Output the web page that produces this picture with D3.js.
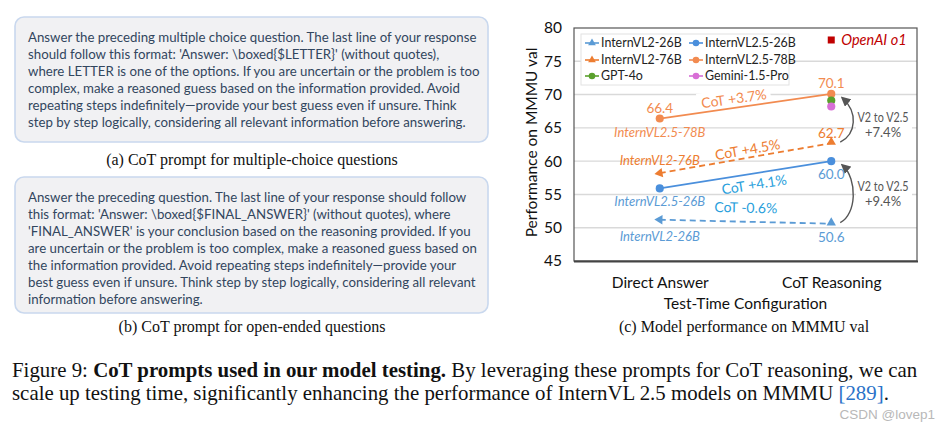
<!DOCTYPE html>
<html><head><meta charset="utf-8">
<script src="https://cdn.jsdelivr.net/npm/d3@7"></script>
<style>body{margin:0;background:#fff}svg{display:block}</style>
</head><body>
<svg id="c" width="940" height="425"></svg>
<script>
// ---------- data ----------
const categories = ["Direct Answer", "CoT Reasoning"];
const yTicks = [45, 50, 55, 60, 65, 70, 75, 80];
const internVL2_26B = [51.2, 50.6];
const internVL25_26B = [55.9, 60.0];
const internVL2_76B = [58.2, 62.7];
const internVL25_78B = [66.4, 70.1];
const gpt4o = [69.1];
const gemini15Pro = [68.2];
const openaiO1 = [78.2];
const cotGains = ["CoT -0.6%", "CoT +4.1%", "CoT +4.5%", "CoT +3.7%"];
const upgradeLabels = [["V2 to V2.5", "+9.4%"], ["V2 to V2.5", "+7.4%"]];
const legendNames = ["InternVL2-26B", "InternVL2.5-26B", "InternVL2-76B", "InternVL2.5-78B", "GPT-4o", "Gemini-1.5-Pro"];
const promptA = [
  "Answer the preceding multiple choice question. The last line of your response",
  "should follow this format: 'Answer: \\boxed{$LETTER}' (without quotes),",
  "where LETTER is one of the options. If you are uncertain or the problem is too",
  "complex, make a reasoned guess based on the information provided. Avoid",
  "repeating steps indefinitely\u2014provide your best guess even if unsure. Think",
  "step by step logically, considering all relevant information before answering."
];
const promptB = [
  "Answer the preceding question. The last line of your response should follow",
  "this format: 'Answer: \\boxed{$FINAL_ANSWER}' (without quotes), where",
  "'FINAL_ANSWER' is your conclusion based on the reasoning provided. If you",
  "are uncertain or the problem is too complex, make a reasoned guess based on",
  "the information provided. Avoid repeating steps indefinitely\u2014provide your",
  "best guess even if unsure. Think step by step logically, considering all relevant",
  "information before answering."
];

// ---------- setup ----------
const svg = d3.select("#c");
const SANS = "Lato, Carlito, 'Open Sans', sans-serif";
const SERIF = "'Liberation Serif', 'Times New Roman', serif";
const C = {
  v2_26: "#5b9bd5", v25_26: "#4a8fdc", v2_76: "#ed7d31", v25_78: "#f28b50",
  gpt: "#5aa02c", gem: "#d86fd6", o1: "#c00000", cotBlue: "#2a9fdc", gray: "#555"
};

// ---------- prompt boxes ----------
function promptBox(lines, top, bottom, capText, capY) {
  svg.append("rect").attr("x", 15).attr("y", top).attr("width", 473).attr("height", bottom - top)
    .attr("rx", 9).attr("fill", "#f1f1f3").attr("stroke", "#c9d8ee").attr("stroke-width", 1.6);
  const g = svg.append("g");
  lines.forEach((l, i) => {
    g.append("text").attr("class", "pl").attr("x", 28).attr("y", top + 24.5 + i * 17.15)
      .attr("font-family", SANS).attr("font-size", 13).attr("fill", "#32465e").text(l);
  });
  svg.append("text").attr("x", 252).attr("y", capY).attr("text-anchor", "middle")
    .attr("font-family", SERIF).attr("font-size", 16).attr("fill", "#111").text(capText);
  return g;
}
const gA = promptBox(promptA, 17, 142, "(a) CoT prompt for multiple-choice questions", 165);
const gB = promptBox(promptB, 177, 313, "(b) CoT prompt for open-ended questions", 332);
{
  const len = gA.select("text").node().getComputedTextLength();
  const fs = 13 * 449 / len;
  svg.selectAll("text.pl").attr("font-size", fs);
}

// ---------- chart ----------
const x = d3.scalePoint().domain(categories).range([574, 917]).padding(0.5);
const y = d3.scaleLinear().domain([45, 80]).range([261, 28]);
const X0 = 574, X1 = 917;

svg.append("g").selectAll("line").data(yTicks.filter(t => t > 45 && t < 80)).join("line")
  .attr("x1", X0).attr("x2", X1).attr("y1", d => y(d)).attr("y2", d => y(d))
  .attr("stroke", "#d9d9d9").attr("stroke-width", 1.4);

const yAxis = d3.axisLeft(y).tickValues(yTicks).tickSize(0).tickPadding(12);
const ya = svg.append("g").attr("transform", `translate(${X0},0)`).call(yAxis);
ya.select(".domain").remove();
ya.selectAll("text").attr("font-family", SANS).attr("font-size", 15.5).attr("fill", "#111");

svg.append("text").attr("transform", `translate(537,${(y(45) + y(80)) / 2 - 2}) rotate(-90)`)
  .attr("text-anchor", "middle").attr("font-family", SANS).attr("font-size", 15.5).attr("fill", "#111")
  .text("Performance on MMMU val");

const xAxis = d3.axisBottom(x).tickSize(0).tickPadding(16);
const xa = svg.append("g").attr("transform", `translate(0,${y(45)})`).call(xAxis);
xa.select(".domain").remove();
xa.selectAll("text").attr("font-family", SANS).attr("font-size", 15.5).attr("fill", "#111");
svg.append("text").attr("x", (X0 + X1) / 2).attr("y", 309).attr("text-anchor", "middle")
  .attr("font-family", SANS).attr("font-size", 15.5).attr("fill", "#111").text("Test-Time Configuration");
svg.append("text").attr("x", 744).attr("y", 332).attr("text-anchor", "middle")
  .attr("font-family", SERIF).attr("font-size", 16).attr("fill", "#111").text("(c) Model performance on MMMU val");

function label(txt, cx, cy, angle, color, opts = {}) {
  const g = svg.append("g").attr("transform", `translate(${cx},${cy}) rotate(${angle})`);
  const t = g.append("text").attr("text-anchor", "middle").attr("dy", "0.35em")
    .attr("font-family", SANS).attr("font-size", opts.size || 13.5).attr("fill", color)
    .attr("font-style", opts.italic ? "italic" : "normal").text(txt);
  if (opts.bg) {
    const b = t.node().getBBox();
    g.insert("rect", "text").attr("x", b.x - 4).attr("y", b.y - 1).attr("width", b.width + 8)
      .attr("height", b.height + 2).attr("fill", "#fff");
  }
  return g;
}
function ang(vals) {
  const dx = x(categories[1]) - x(categories[0]);
  const dy = y(vals[1]) - y(vals[0]);
  return Math.atan2(dy, dx) * 180 / Math.PI;
}
function along(vals, t, off) {
  const x0 = x(categories[0]), x1 = x(categories[1]);
  const y0 = y(vals[0]), y1 = y(vals[1]);
  const px = x0 + (x1 - x0) * t, py = y0 + (y1 - y0) * t;
  const a = Math.atan2(y1 - y0, x1 - x0);
  return [px - Math.sin(a) * off, py + Math.cos(a) * off];
}

{
  let p = along(internVL25_78B, 0.44, -9);
  label(cotGains[3], p[0], p[1], ang(internVL25_78B), C.v25_78, { bg: true, size: 14 });
  p = along(internVL2_76B, 0.52, -8);
  label(cotGains[2], p[0], p[1], ang(internVL2_76B), C.v2_76, { size: 14 });
  p = along(internVL25_26B, 0.54, 11);
  label(cotGains[1], p[0], p[1], ang(internVL25_26B), C.cotBlue, { size: 14 });
  p = along(internVL2_26B, 0.5, -14);
  label(cotGains[0], p[0], p[1], ang(internVL2_26B), C.cotBlue, { size: 14 });
}

svg.append("rect").attr("x", X0).attr("y", y(80)).attr("width", X1 - X0).attr("height", y(45) - y(80))
  .attr("fill", "none").attr("stroke", "#555").attr("stroke-width", 1.2);
svg.append("line").attr("x1", X0).attr("x2", X1 + 1).attr("y1", y(45) + 0.5).attr("y2", y(45) + 0.5)
  .attr("stroke", "#444").attr("stroke-width", 2);

const line = d3.line().x((d, i) => x(categories[i])).y(d => y(d));
const tri = d3.symbol().type(d3.symbolTriangle).size(38);
const dot = d3.symbol().type(d3.symbolCircle).size(52);

function series(vals, color, dashed) {
  svg.append("path").attr("d", line(vals)).attr("fill", "none").attr("stroke", color)
    .attr("stroke-width", 1.8).attr("stroke-dasharray", dashed ? "6,4" : null);
  if (dashed) {
    const a = Math.atan2(y(vals[0]) - y(vals[1]), x(categories[0]) - x(categories[1])) * 180 / Math.PI;
    svg.append("path").attr("d", tri()).attr("fill", color)
      .attr("transform", `translate(${x(categories[0])},${y(vals[0])}) rotate(${a + 90})`);
    svg.append("path").attr("d", tri()).attr("fill", color)
      .attr("transform", `translate(${x(categories[1])},${y(vals[1]) - 1})`);
  } else {
    svg.selectAll(null).data(vals).join("path").attr("d", dot()).attr("fill", color)
      .attr("transform", (d, i) => `translate(${x(categories[i])},${y(d)})`);
  }
}
series(internVL2_26B, C.v2_26, true);
series(internVL25_26B, C.v25_26, false);
series(internVL2_76B, C.v2_76, true);
series(internVL25_78B, C.v25_78, false);

svg.append("path").attr("d", dot()).attr("fill", C.gpt).attr("transform", `translate(${x(categories[1])},${y(gpt4o[0])})`);
svg.append("path").attr("d", dot()).attr("fill", C.gem).attr("transform", `translate(${x(categories[1])},${y(gemini15Pro[0])})`);
svg.append("rect").attr("x", x(categories[1]) - 3.5).attr("y", y(openaiO1[0]) - 3.5).attr("width", 7).attr("height", 7).attr("fill", C.o1);
svg.append("text").attr("x", x(categories[1]) + 10).attr("y", y(openaiO1[0])).attr("dy", "0.35em")
  .attr("font-family", SANS).attr("font-style", "italic").attr("font-size", 14.5).attr("fill", C.o1).text("OpenAI o1");

const xd = x(categories[0]), xc = x(categories[1]);
label(internVL25_78B[0].toFixed(1), xd, y(internVL25_78B[0]) - 10, 0, C.v25_78, { size: 13.5 });
label(internVL25_78B[1].toFixed(1), xc, y(internVL25_78B[1]) - 11, 0, C.v25_78, { size: 13.5 });
label(internVL2_76B[1].toFixed(1), xc, y(internVL2_76B[1]) - 10, 0, C.v2_76, { size: 13.5 });
label(internVL25_26B[1].toFixed(1), xc, y(internVL25_26B[1]) + 13, 0, C.v2_26, { size: 13.5 });
label(internVL2_26B[1].toFixed(1), xc, y(internVL2_26B[1]) + 14, 0, C.v2_26, { size: 13.5 });
label("InternVL2.5-78B", xd, y(internVL25_78B[0]) + 14, 0, C.v25_78, { italic: true, size: 13 });
label("InternVL2-76B", xd, y(internVL2_76B[0]) - 13, 0, C.v2_76, { italic: true, size: 13 });
label("InternVL2.5-26B", xd, y(internVL25_26B[0]) + 13, 0, C.v2_26, { italic: true, size: 13 });
label("InternVL2-26B", xd, y(internVL2_26B[0]) + 17, 0, C.v2_26, { italic: true, size: 13 });

svg.append("defs").append("marker").attr("id", "ah").attr("viewBox", "0 0 10 10").attr("refX", 8).attr("refY", 5)
  .attr("markerWidth", 7).attr("markerHeight", 7).attr("orient", "auto-start-reverse")
  .append("path").attr("d", "M0,0 L10,5 L0,10 z").attr("fill", "#555");
function upArrow(vFrom, vTo) {
  const x0 = xc + 9, y0 = y(vFrom) - 1, y1 = y(vTo) + 4, x1 = xc + 11;
  svg.append("path").attr("d", `M${x0},${y0} C${x0 + 16},${y0 - 8} ${x1 + 16},${y1 + 14} ${x1},${y1}`)
    .attr("fill", "none").attr("stroke", "#555").attr("stroke-width", 1.4).attr("marker-end", "url(#ah)");
}
upArrow(internVL2_76B[1], internVL25_78B[1]);
upArrow(internVL2_26B[1], internVL25_26B[1]);
function upText(lines, cy) {
  svg.append("rect").attr("x", 856).attr("y", cy - 16).attr("width", 56).attr("height", 32).attr("fill", "#fff");
  lines.forEach((l, i) => {
    const t = svg.append("text").attr("x", 883).attr("y", cy - 7 + i * 15).attr("dy", "0.35em").attr("text-anchor", "middle")
      .attr("font-family", SANS).attr("font-size", 13).attr("fill", C.gray).text(l);
    if (i === 0) t.attr("textLength", 51).attr("lengthAdjust", "spacingAndGlyphs");
  });
}
upText(upgradeLabels[1], (y(internVL2_76B[1]) + y(internVL25_78B[1])) / 2 + 6);
upText(upgradeLabels[0], (y(internVL2_26B[1]) + y(internVL25_26B[1])) / 2 + 1);

{
  const lg = svg.append("g");
  lg.append("rect").attr("x", 581).attr("y", 34).attr("width", 208).attr("height", 51)
    .attr("fill", "#fff").attr("stroke", "#e2e2e2").attr("stroke-width", 1);
  const cols = [585, 689], rows = [43, 60, 76];
  const colors = [C.v2_26, C.v25_26, C.v2_76, C.v25_78, C.gpt, C.gem];
  const shapes = ["t", "c", "t", "c", "c", "c"];
  legendNames.forEach((n, i) => {
    const cx = cols[i % 2], cy = rows[Math.floor(i / 2)];
    lg.append("line").attr("x1", cx).attr("x2", cx + 14).attr("y1", cy).attr("y2", cy)
      .attr("stroke", colors[i]).attr("stroke-width", 1.6);
    lg.append("path").attr("d", shapes[i] === "t" ? d3.symbol().type(d3.symbolTriangle).size(26)() : d3.symbol().type(d3.symbolCircle).size(34)())
      .attr("fill", colors[i]).attr("transform", `translate(${cx + 7},${cy})`);
    lg.append("text").attr("x", cx + 16).attr("y", cy).attr("dy", "0.36em")
      .attr("font-family", SANS).attr("font-size", 12.4).attr("fill", "#222").text(n);
  });
}

// ---------- figure caption ----------
const cap1 = svg.append("text").attr("x", 12).attr("y", 377).attr("font-family", SERIF).attr("font-size", 19).attr("fill", "#111");
cap1.append("tspan").text("Figure 9: ");
cap1.append("tspan").attr("font-weight", "bold").text("CoT prompts used in our model testing.");
cap1.append("tspan").text(" By leveraging these prompts for CoT reasoning, we can");
const cap2 = svg.append("text").attr("x", 12).attr("y", 400).attr("font-family", SERIF).attr("font-size", 19).attr("fill", "#111");
cap2.append("tspan").text("scale up testing time, significantly enhancing the performance of InternVL 2.5 models on MMMU ");
cap2.append("tspan").attr("fill", "#2a72c8").text("[289]");
cap2.append("tspan").text(".");
{
  const len = cap1.node().getComputedTextLength();
  const fs = 19 * 906 / len;
  cap1.attr("font-size", fs); cap2.attr("font-size", fs);
}
svg.append("text").attr("x", 935).attr("y", 419).attr("text-anchor", "end")
  .attr("font-family", "'Liberation Sans', Arial, sans-serif").attr("font-size", 13.5).attr("fill", "#b8b8b8").text("CSDN @lovep1");
</script>
</body></html>
